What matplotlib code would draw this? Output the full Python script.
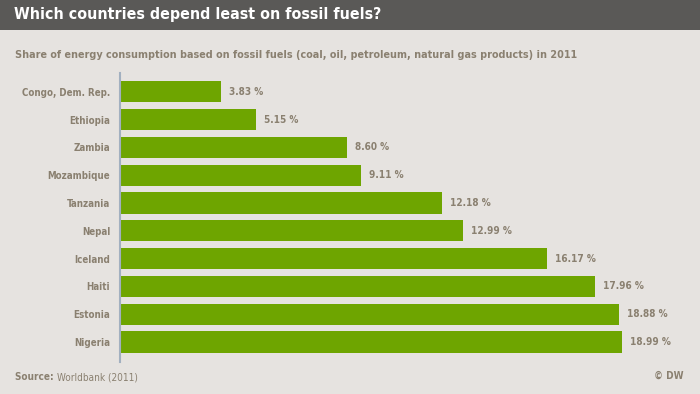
import matplotlib
matplotlib.use("Agg")
from matplotlib import pyplot as plt

countries = ["Congo, Dem. Rep.", "Ethiopia", "Zambia", "Mozambique", "Tanzania",
             "Nepal", "Iceland", "Haiti", "Estonia", "Nigeria"]
shares = [3.83, 5.15, 8.60, 9.11, 12.18, 12.99, 16.17, 17.96, 18.88, 18.99]
value_labels = ["3.83 %", "5.15 %", "8.60 %", "9.11 %", "12.18 %",
                "12.99 %", "16.17 %", "17.96 %", "18.88 %", "18.99 %"]

bg = "#e6e3e0"
text_col = "#8a8070"
green = "#6ea500"

plt.rcParams["font.family"] = ["DejaVu Sans"]
plt.rcParams["font.stretch"] = "condensed"

fig = plt.figure(figsize=(7, 3.94), dpi=100, facecolor=bg)

# title bar
bar_ax = fig.add_axes([0, 1 - 30 / 394, 1, 30 / 394])
bar_ax.set_facecolor("#5a5957")
bar_ax.set_xticks([])
bar_ax.set_yticks([])
for s in bar_ax.spines.values():
    s.set_visible(False)
fig.text(14 / 700, 1 - 15 / 394, "Which countries depend least on fossil fuels?",
         color="white", fontsize=11.4, fontweight="bold", va="center", ha="left")

fig.text(15 / 700, 1 - 55 / 394,
         "Share of energy consumption based on fossil fuels (coal, oil, petroleum, natural gas products) in 2011",
         color=text_col, fontsize=7.75, fontweight="bold", va="center", ha="left")

ax = fig.add_axes([120 / 700, 1 - 362 / 394, 560 / 700, 289 / 394])
ax.set_facecolor(bg)
ax.barh(range(len(countries)), shares, height=0.76, color=green)
ax.set_xlim(0, 560 / 26.43)
ax.set_ylim(9.72, -0.68)
ax.set_yticks(range(len(countries)))
ax.set_yticklabels(countries, color=text_col, fontsize=7.0, fontweight="bold")
ax.tick_params(axis="y", length=0, pad=7)
ax.set_xticks([])
for name in ["top", "right", "bottom"]:
    ax.spines[name].set_visible(False)
ax.spines["left"].set_color("#a2b0c0")
ax.spines["left"].set_linewidth(1.5)

for i, v in enumerate(shares):
    ax.text(v + 0.3, i, value_labels[i], color=text_col, fontsize=7.2,
            fontweight="bold", va="center", ha="left")

src = fig.text(15 / 700, 1 - 377 / 394, "Source: ", color=text_col, fontsize=7.2,
               fontweight="bold", va="center", ha="left")
fig.canvas.draw()
bb = src.get_window_extent()
fig.text(bb.x1 / 700, 1 - 377 / 394, "Worldbank (2011)", color=text_col, fontsize=7.2,
         va="center", ha="left")
fig.text(684 / 700, 1 - 376 / 394, "© DW", color=text_col, fontsize=7.2,
         fontweight="bold", va="center", ha="right")

fig.savefig("out.png", dpi=100, facecolor=bg)
